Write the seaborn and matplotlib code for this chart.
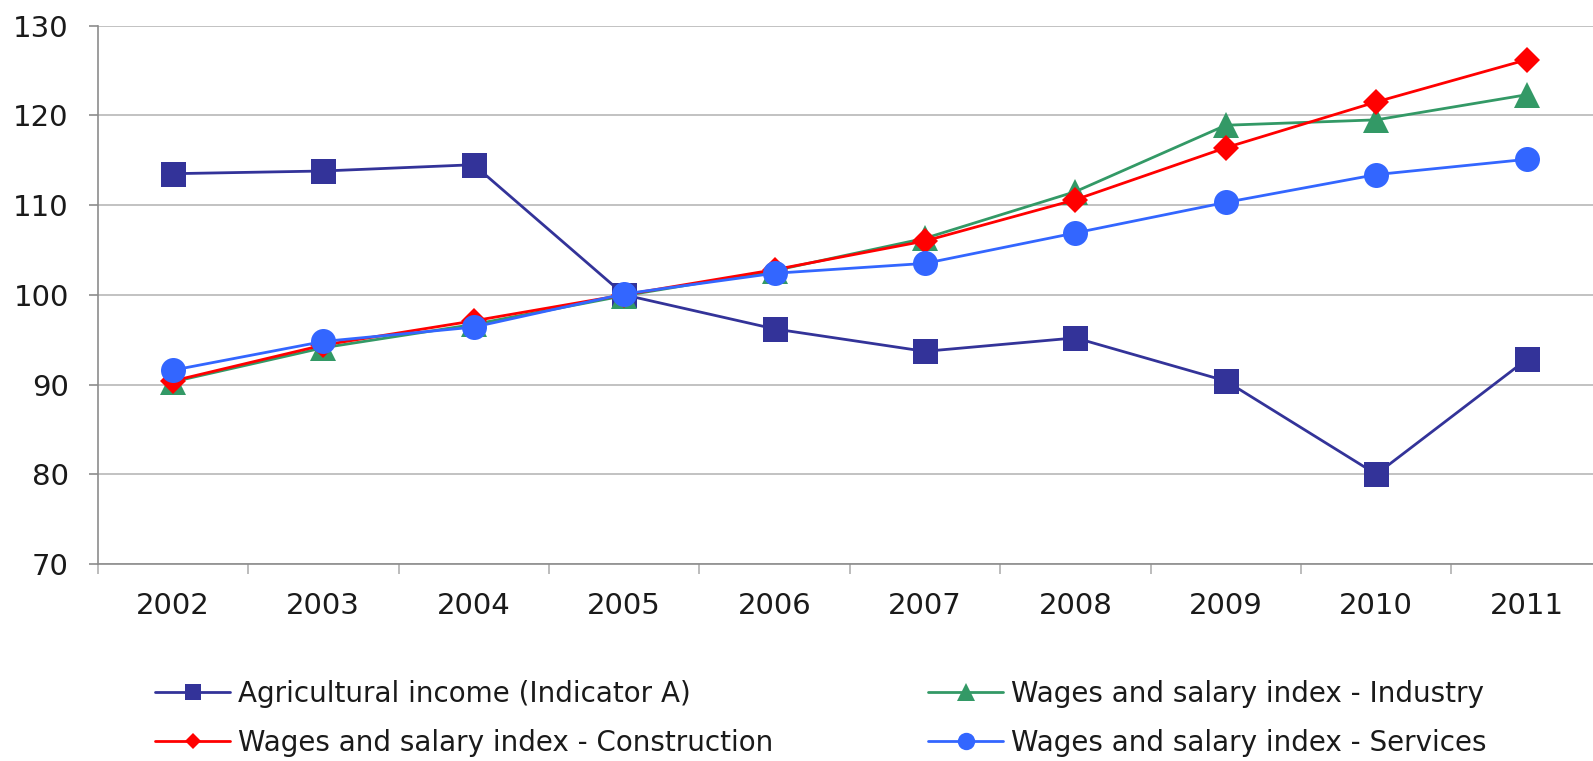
import numpy as np
import pandas as pd
import matplotlib
matplotlib.use("Agg")
import matplotlib.pyplot as plt
from matplotlib.lines import Line2D
from matplotlib.ticker import FixedLocator
import seaborn as sns

years = ["2002", "2003", "2004", "2005", "2006", "2007", "2008", "2009", "2010", "2011"]
agri = [113.5, 113.8, 114.5, 100.0, 96.2, 93.7, 95.2, 90.4, 80.0, 92.8]
industry = [90.3, 94.1, 96.7, 99.9, 102.7, 106.3, 111.5, 118.9, 119.5, 122.3]
construction = [90.4, 94.4, 97.1, 100.0, 102.8, 106.0, 110.6, 116.4, 121.5, 126.2]
services = [91.6, 94.8, 96.4, 100.1, 102.4, 103.5, 106.9, 110.3, 113.4, 115.1]

labels = ["Agricultural income (Indicator A)",
          "Wages and salary index - Industry",
          "Wages and salary index - Construction",
          "Wages and salary index - Services"]
colors = ["#333399", "#339966", "#ff0000", "#3366ff"]
markers = ["s", "^", "D", "o"]
msizes = [18, 18.5, 13, 18]
leg_msizes = [12, 13, 8.5, 12.5]

sns.set_theme(style="white")
plt.rcParams["font.family"] = ["DejaVu Sans"]

fig = plt.figure(figsize=(15.93, 7.61), dpi=100)
ax = fig.add_axes([0.0613, 0.2589, 0.9443, 0.7074])

for vals, lab, c, m, ms in zip([agri, industry, construction, services],
                                labels, colors, markers, msizes):
    df = pd.DataFrame({"year": years, "value": vals})
    sns.lineplot(data=df, x="year", y="value", ax=ax, color=c, lw=2.0,
                 marker=m, markersize=ms, markeredgecolor=c,
                 markeredgewidth=0, label=lab, legend=False)

ax.set_xlim(-0.5, len(years) - 0.5)
ax.set_ylim(70, 130)
ax.set_yticks(np.arange(70, 131, 10))
ax.set_xlabel("")
ax.set_ylabel("")
ax.xaxis.set_minor_locator(FixedLocator(np.arange(-0.5, len(years), 1.0)))

ax.grid(axis="y", color="#b8b8b8", lw=1.2)
ax.grid(axis="x", visible=False)
ax.set_axisbelow(True)
for s in ["top", "right"]:
    ax.spines[s].set_visible(False)
for s in ["left", "bottom"]:
    ax.spines[s].set_color("#8c8c8c")
    ax.spines[s].set_linewidth(1.2)

ax.tick_params(axis="y", which="major", length=6.8, width=1.2, color="#8c8c8c",
               pad=14, labelsize=21, labelcolor="#1a1a1a", left=True)
ax.tick_params(axis="x", which="major", length=0, pad=20, labelsize=21,
               labelcolor="#1a1a1a")
ax.tick_params(axis="x", which="minor", length=7, width=1.2, color="#b0b0b0",
               bottom=True)

handles = [Line2D([0], [0], color=c, lw=2.0, marker=m, markersize=ms,
                  markeredgewidth=0)
           for c, m, ms in zip(colors, markers, leg_msizes)]

legend_kw = dict(loc="center left", frameon=False, fontsize=20,
                 handlelength=2.7, handletextpad=0.29, labelspacing=0.75,
                 borderpad=0, borderaxespad=0, labelcolor="#1a1a1a")
leg1 = fig.legend([handles[0], handles[2]], [labels[0], labels[2]],
                  bbox_to_anchor=(155 / 1593, 0.056), **legend_kw)
leg2 = fig.legend([handles[1], handles[3]], [labels[1], labels[3]],
                  bbox_to_anchor=(928 / 1593, 0.056), **legend_kw)

fig.savefig("out.png", dpi=100)
